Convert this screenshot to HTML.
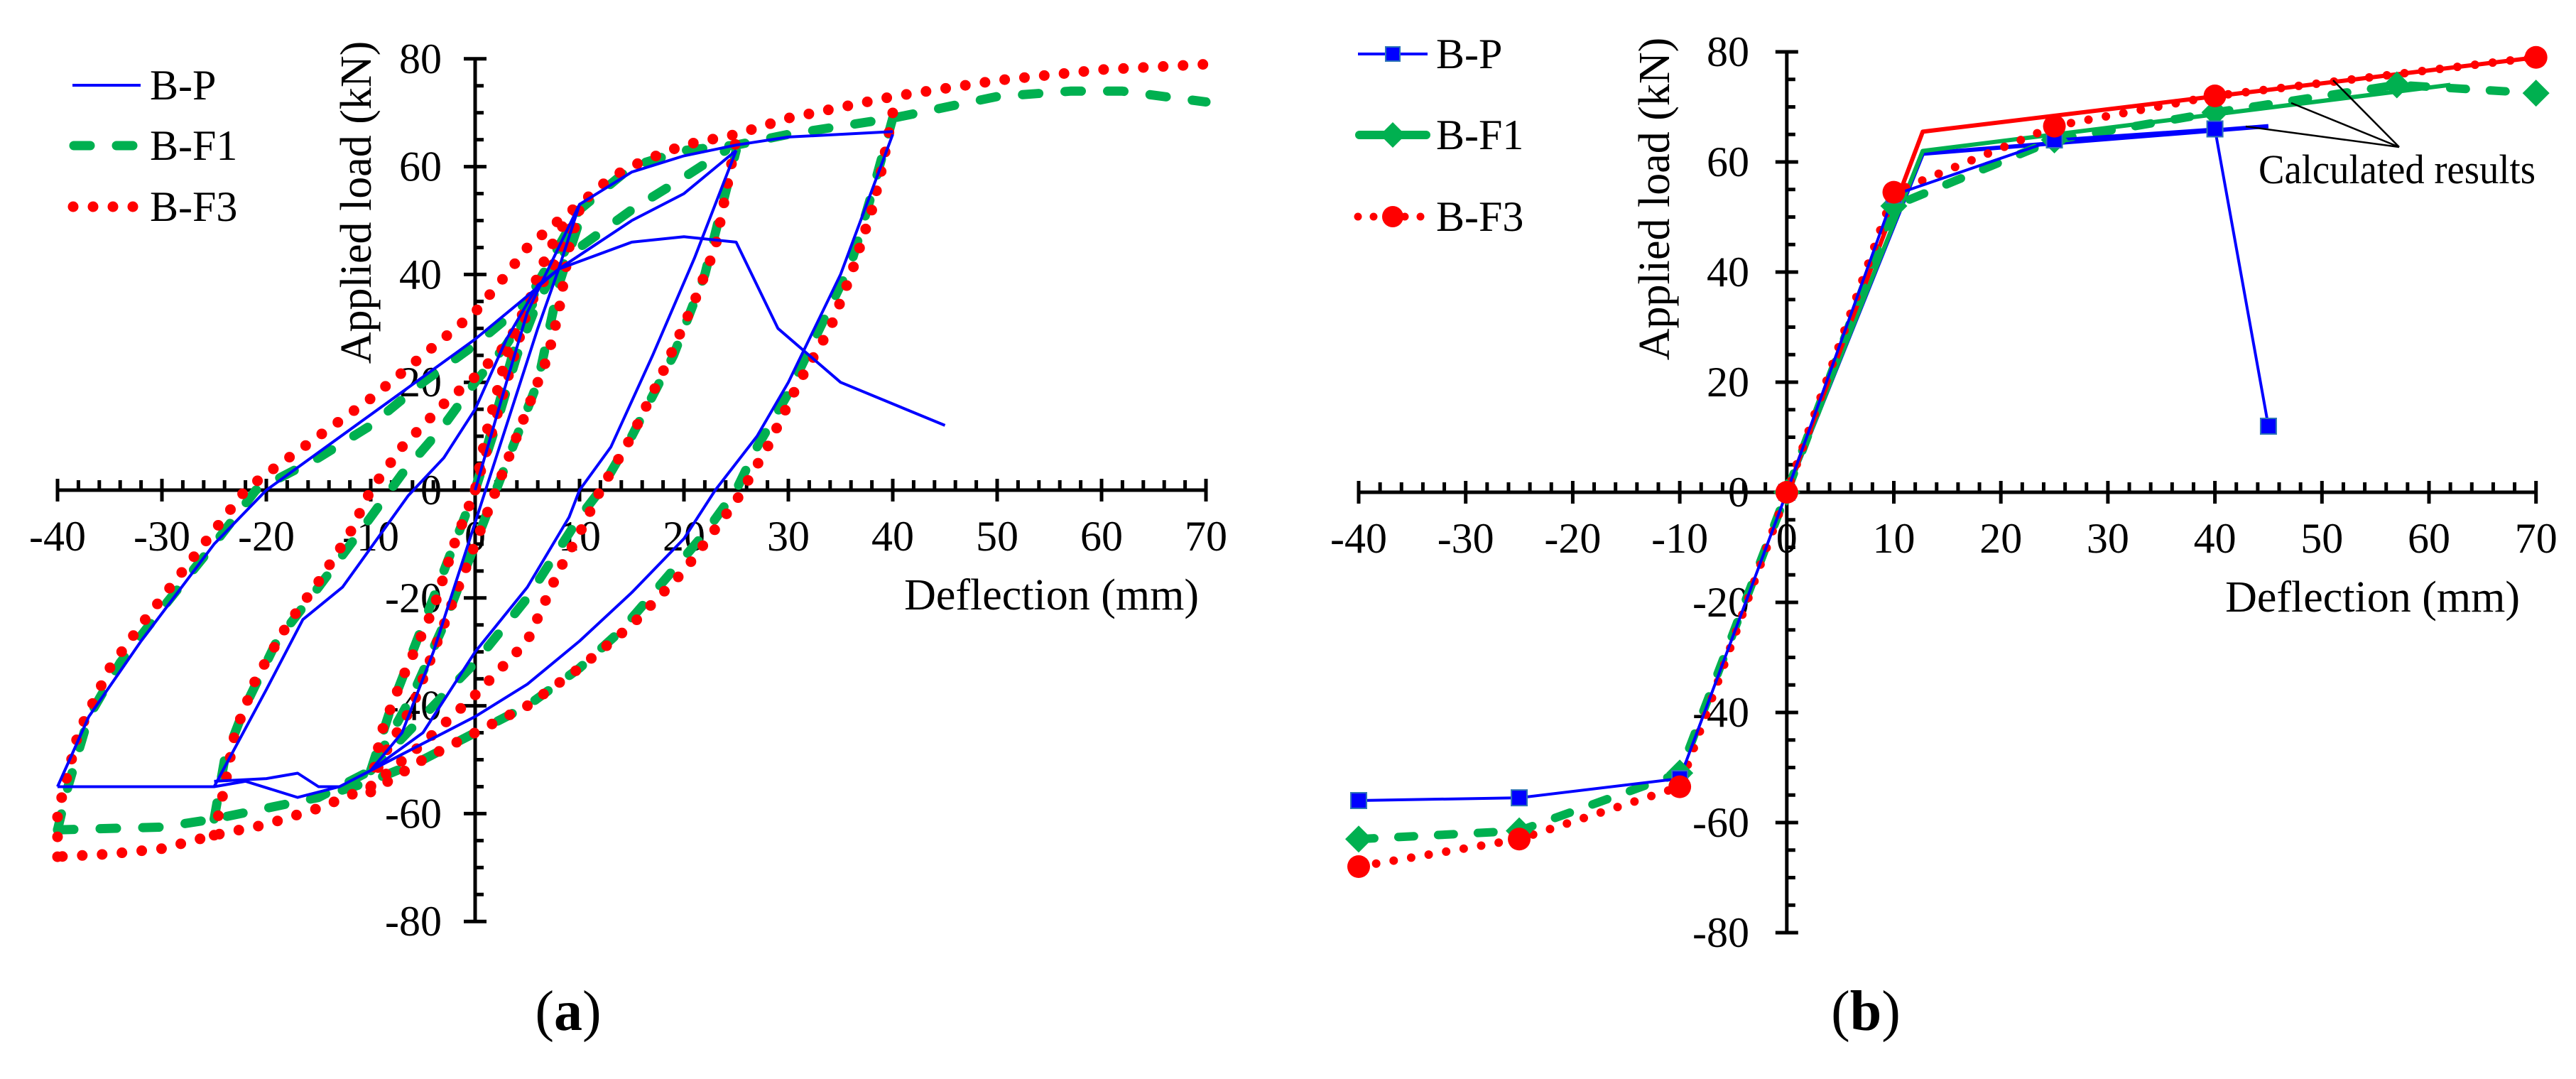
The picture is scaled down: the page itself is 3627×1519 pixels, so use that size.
<!DOCTYPE html>
<html><head><meta charset="utf-8"><title>Load-deflection curves</title>
<style>
html,body{margin:0;padding:0;background:#fff;}
svg{display:block;font-family:"Liberation Serif",serif;}
</style></head>
<body>
<svg id="fig" xmlns="http://www.w3.org/2000/svg" width="3627" height="1519" viewBox="0 0 3627 1519">
<rect width="3627" height="1519" fill="#fff"/>
</svg>
<script>
// ---------- Panel (a) data: hysteresis curves (x = deflection mm, y = load kN) ----------
const xTicks = [-40,-30,-20,-10,0,10,20,30,40,50,60,70];
const yTicks = [-80,-60,-40,-20,0,20,40,60,80];

const aBlue1x = [0,3,5,8,10,8,6,3,1,-1,-4,-7,-10];
const aBlue1y = [0,20,33,45,53,41,30,12,0,-12,-30,-45,-52];
const aBlue2x = [-10,-5,0,5,9,10,13,17,21,25];
const aBlue2y = [-52,-45,-30,-18,-5,0,8,25,43,63];
const aBlue3x = [25,20,15,8,5,0,-5,-10,-15,-20,-25,-32,-37,-40];
const aBlue3y = [63,55,50,41,36,28,21,14,7,0,-10,-28,-42,-55];
const aBlue4x = [-25,-20,-16.5,-12.7,-6.4,-3,0,3,6,8,15,20,25,29,35,45];
const aBlue4y = [-55,-37,-24,-18,-1,6,15,28,38,41,46,47,46,30,20,12];
const aBlue5x = [-40,-25,-22,-17,-13,-10,-5,0,5,10,15,20,23,27,30,35,40];
const aBlue5y = [-55,-55,-54,-57,-55,-52,-47,-42,-36,-28,-19,-9,0,10,20,40,66];
const aBlue6x = [10,15,20,25,30,40];
const aBlue6y = [53,59,62,64,65.5,66.5];
const aBlue7x = [-25,-20,-17,-15,-13];
const aBlue7y = [-54,-53.5,-52.5,-55,-55];

const aGreen1x = [-40,-30,-25,-20,-15,-10];
const aGreen1y = [-63,-62.5,-61,-59,-57,-52];
const aGreen2x = [0,5,10,15,20,25,30,40,50,57,62,70];
const aGreen2y = [0,35,52,60,63,64,66,69,73,74,74,72];
const aGreen3x = [40,38,36,33,30,27,25,22,18,14,10,5,0,-5,-10,-15];
const aGreen3y = [69,55,42,30,18,8,0,-8,-17,-26,-33,-40,-45,-50,-54,-57];
const aGreen4x = [-40,-39,-37,-34,-30,-25,-21,-15,-10,-5,0,5,10,15,20,24];
const aGreen4y = [-63,-55,-42,-32,-22,-10,0,6,12,20,27,35,45,52,58,63];
const aGreen5x = [-25,-24,-22,-19,-15,-10,-7,-3,0,3,6,8];
const aGreen5y = [-61,-50,-40,-28,-18,-5,3,12,20,27,36,42];
const aGreen6x = [-10,-8,-5,-2,0,2,4,6,8,10,8,6,3,2,0,-3,-6,-10];
const aGreen6y = [-52,-40,-25,-10,0,12,25,35,42,50,38,20,5,0,-10,-25,-38,-52];
const aGreen7x = [-10,-5,0,5,10,12,15,19,22,25];
const aGreen7y = [-52,-42,-32,-20,-5,0,10,25,40,63];

const aRed1x = [0,3,6,8,10,13,16,20,25,30,35,40,45,50,55,60,65,70];
const aRed1y = [0,20,40,48,53,58,61,64,66,69,71,73,74.5,76,77,78,78.5,79];
const aRed2x = [-10,-15,-20,-25,-30,-35,-40];
const aRed2y = [-55,-59,-62,-64,-66.5,-67.5,-68];
const aRed3x = [-40,-40,-38,-35,-32,-28,-24,-22,-20,-15,-10,-5,0,3,5,8,10];
const aRed3y = [-68,-60,-45,-33,-25,-15,-5,0,3,10,17,25,33,40,45,50,53];
const aRed4x = [-25,-24,-23,-21,-18,-15,-12,-10,-7,-3,0,3,6,8];
const aRed4y = [-64,-55,-45,-35,-25,-17,-8,0,8,16,21,27,37,43];
const aRed5x = [-10,-9,-7,-4,-2,0,1,3,5,7,9,10,9,8,7,5,3,2,0,-3,-6,-9,-10];
const aRed5y = [-55,-45,-35,-22,-10,0,10,25,35,40,48,52,45,33,25,15,5,0,-10,-25,-40,-50,-55];
const aRed6x = [-10,-5,0,5,8,10,12,15,18,21,23,24,25];
const aRed6y = [-55,-47,-38,-28,-15,-8,0,10,22,35,45,55,65];
const aRed7x = [-10,-5,0,5,10,15,20,25,28,31,34,36,38,39,40];
const aRed7y = [-56,-50,-45,-40,-33,-25,-15,-2,8,20,30,40,52,60,70];

// ---------- Panel (b) data: envelope curves ----------
const bPx = [-40,-25,-10,0,10,25,40,45];
const bPy = [-56,-55.5,-52,0,54,64,66,12];
const bF1x = [-40,-25,-10,0,10,25,40,57,70];
const bF1y = [-63,-61.5,-51,0,52,64,69,74,72.5];
const bF3x = [-40,-25,-10,0,10,25,40,70];
const bF3y = [-68,-63,-53.5,0,54.5,66.5,72,79];
const calcPx = [0,12.7,45];
const calcPy = [0,61.5,66.5];
const calcF1x = [0,12.7,62];
const calcF1y = [0,62,74];
const calcF3x = [0,12.7,70];
const calcF3y = [0,65.5,79];

const NS = "http://www.w3.org/2000/svg";
const svg = document.getElementById('fig');
function mk(tag, attrs, parent){
  const e = document.createElementNS(NS, tag);
  for (const k in attrs) e.setAttribute(k, attrs[k]);
  (parent||svg).appendChild(e);
  return e;
}

function makePanel(cfg){
  const g = mk('g', {});
  
  
  const X = v => cfg.x0 + (v + 40) * cfg.xs;
  const Y = v => cfg.y0 - v * cfg.ys;
  const ox = X(0);
  const xa = mk('g', {}, g);
  
  
  mk('line', {x1:X(-40), y1:cfg.y0, x2:X(70), y2:cfg.y0, stroke:'#000','stroke-width':5}, xa);
  for (let v=-40; v<=70; v+=2){
    if (v%10===0){
      mk('line', {x1:X(v), y1:cfg.y0-16, x2:X(v), y2:cfg.y0+16, stroke:'#000','stroke-width':5}, xa);
    } else {
      mk('line', {x1:X(v), y1:cfg.y0-14, x2:X(v), y2:cfg.y0, stroke:'#000','stroke-width':5}, xa);
    }
  }
  xTicks.forEach(v=>{
    const t = mk('text', {x:X(v), y:cfg.y0+85, 'text-anchor':'middle','font-size':60}, xa);
    
    
    t.textContent = v;
  });
  const ya = mk('g', {}, g);
  
  
  mk('line', {x1:ox, y1:Y(80), x2:ox, y2:Y(-80), stroke:'#000','stroke-width':5}, ya);
  for (let v=-80; v<=80; v+=5){
    if (v%20===0){
      mk('line', {x1:ox-16, y1:Y(v), x2:ox+16, y2:Y(v), stroke:'#000','stroke-width':5}, ya);
    } else {
      mk('line', {x1:ox, y1:Y(v), x2:ox+12, y2:Y(v), stroke:'#000','stroke-width':5}, ya);
    }
  }
  yTicks.forEach(v=>{
    const t = mk('text', {x:cfg.yLabelRight, y:Y(v)+20, 'text-anchor':'end','font-size':60}, ya);
    
    
    t.textContent = v;
  });
  const yt = mk('text', {x:0, y:0, 'text-anchor':'middle','font-size':62,
    transform:`translate(${cfg.yTitleX},${cfg.yTitleY}) rotate(-90)`}, g);
  
  
  yt.textContent = 'Applied load (kN)';
  const xt = mk('text', {x:cfg.xTitleRight, y:cfg.xTitleY, 'text-anchor':'end','font-size':62}, g);
  
  
  xt.textContent = 'Deflection (mm)';
  const cap = mk('text', {x:cfg.capX, y:1450, 'text-anchor':'middle','font-size':80}, g);
  
  
  cap.innerHTML = '(<tspan font-weight="bold">' + cfg.cap + '</tspan>)';
  return {g, X, Y};
}

function poly(p, xs, ys, style, name){
  const pts = xs.map((v,i)=> p.X(v).toFixed(1)+','+p.Y(ys[i]).toFixed(1)).join(' ');
  const e = mk('polyline', Object.assign({points:pts, fill:'none','stroke-linejoin':'round'}, style), p.g);
  
  
  return e;
}

const blueA = {stroke:'#0000ff','stroke-width':4};
const greenA = {stroke:'#00b050','stroke-width':13,'stroke-dasharray':'23 37','stroke-linecap':'round'};
const redA = {stroke:'#ff0000','stroke-width':15,'stroke-dasharray':'0 28','stroke-linecap':'round'};

const pa = makePanel({name:'panel-a-hysteresis', x0:81, xs:14.7, y0:690, ys:7.59,
  yLabelRight:622, yTitleX:522, yTitleY:285, xTitleRight:1688, xTitleY:858, capX:800, cap:'a'});
[[aGreen1x,aGreen1y],[aGreen2x,aGreen2y],[aGreen3x,aGreen3y],[aGreen4x,aGreen4y],[aGreen5x,aGreen5y],[aGreen6x,aGreen6y],[aGreen7x,aGreen7y]]
  .forEach(s=>poly(pa, s[0], s[1], greenA, 'b-f1-curve'));
[[aRed1x,aRed1y],[aRed2x,aRed2y],[aRed3x,aRed3y],[aRed4x,aRed4y],[aRed5x,aRed5y],[aRed6x,aRed6y],[aRed7x,aRed7y]]
  .forEach(s=>poly(pa, s[0], s[1], redA, 'b-f3-curve'));
[[aBlue1x,aBlue1y],[aBlue2x,aBlue2y],[aBlue3x,aBlue3y],[aBlue4x,aBlue4y],[aBlue5x,aBlue5y],[aBlue6x,aBlue6y],[aBlue7x,aBlue7y]]
  .forEach(s=>poly(pa, s[0], s[1], blueA, 'b-p-curve'));

const lgA = mk('g', {});


const legA = [['B-P',blueA,120,102,198],['B-F1',greenA,205,104,193],['B-F3',redA,291,103,189]];
legA.forEach(l=>{
  const ln = mk('line', Object.assign({x1:l[3], y1:l[2], x2:l[4], y2:l[2]}, l[1]), lgA);
  
  
  const t = mk('text', {x:211, y:l[2]+20, 'font-size':60}, lgA);
  
  
  t.textContent = l[0];
});

const pb = makePanel({name:'panel-b-envelope', x0:1913, xs:15.07, y0:693, ys:7.75,
  yLabelRight:2463, yTitleX:2350, yTitleY:280, xTitleRight:3548, xTitleY:861, capX:2627, cap:'b'});

poly(pb, calcPx, calcPy, {stroke:'#0000ff','stroke-width':6}, 'calc-b-p-line');
poly(pb, calcF1x, calcF1y, {stroke:'#00b050','stroke-width':6}, 'calc-b-f1-line');
poly(pb, calcF3x, calcF3y, {stroke:'#ff0000','stroke-width':6}, 'calc-b-f3-line');
poly(pb, bF1x, bF1y, {stroke:'#00b050','stroke-width':12,'stroke-dasharray':'22 34','stroke-linecap':'round'}, 'b-f1-envelope');
poly(pb, bF3x, bF3y, {stroke:'#ff0000','stroke-width':12,'stroke-dasharray':'0 25','stroke-linecap':'round'}, 'b-f3-envelope');
poly(pb, bPx, bPy, {stroke:'#0000ff','stroke-width':4}, 'b-p-envelope');

function sq(g,cx,cy,s,name){ const e=mk('rect',{x:cx-s/2,y:cy-s/2,width:s,height:s,fill:'#0000ff',stroke:'#2e75b6','stroke-width':2},g);
    }
function dia(g,cx,cy,s,name){ const e=mk('polygon',{points:`${cx},${cy-s} ${cx+s},${cy} ${cx},${cy+s} ${cx-s},${cy}`,fill:'#00b050'},g);
    }
function circ(g,cx,cy,r,name){ const e=mk('circle',{cx:cx,cy:cy,r:r,fill:'#ff0000'},g);
    }

bF1x.forEach((v,i)=>dia(pb.g, pb.X(v), pb.Y(bF1y[i]), 19, 'b-f1-marker'));
bPx.forEach((v,i)=>sq(pb.g, pb.X(v), pb.Y(bPy[i]), 22, 'b-p-marker'));
bF3x.forEach((v,i)=>circ(pb.g, pb.X(v), pb.Y(bF3y[i]), 16, 'b-f3-marker'));

const ann = mk('g', {});


[[3162,178],[3226,145],[3285,113]].forEach(p=>{
  mk('line', {x1:3378, y1:207, x2:p[0], y2:p[1], stroke:'#000','stroke-width':2.5}, ann);
});
const at = mk('text', {x:3180, y:258, 'font-size':58, textLength:390, lengthAdjust:'spacingAndGlyphs'}, ann);


at.textContent = 'Calculated results';

const lgB = mk('g', {});


const rowsB = [['B-P',76],['B-F1',190],['B-F3',305]];
mk('line',{x1:1912,y1:76,x2:2010,y2:76,stroke:'#0000ff','stroke-width':4},lgB);
sq(lgB, 1961, 76, 20, 'legend-marker');
mk('line',{x1:1914,y1:190,x2:2008,y2:190,stroke:'#00b050','stroke-width':12,'stroke-linecap':'round'},lgB);
dia(lgB, 1961, 190, 18, 'legend-marker');
mk('line',{x1:1912,y1:305,x2:2010,y2:305,stroke:'#ff0000','stroke-width':11,'stroke-dasharray':'0 22','stroke-linecap':'round'},lgB);
circ(lgB, 1961, 305, 15, 'legend-marker');
rowsB.forEach(r=>{
  const t = mk('text', {x:2022, y:r[1]+20, 'font-size':60}, lgB);
  
  
  t.textContent = r[0];
});
</script>
</body></html>
